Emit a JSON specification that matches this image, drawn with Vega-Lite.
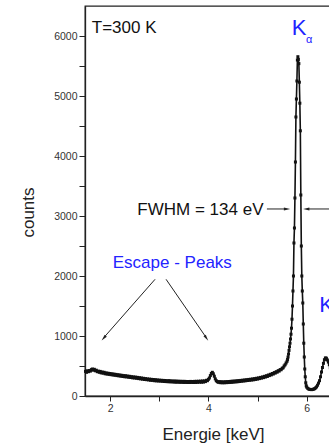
{
  "$schema": "https://vega.github.io/schema/vega-lite/v6.json",
  "autosize": "none",
  "padding": {"left": 85, "top": 6, "right": 0, "bottom": 50},
  "width": 250,
  "height": 390,
  "config": {
    "view": {"stroke": "#222", "strokeWidth": 1.3},
    "font": "Liberation Sans",
    "axis": {"grid": false, "domainColor": "#222", "domainWidth": 1.3, "tickColor": "#222", "tickWidth": 1, "labelFont": "Liberation Sans", "labelFontSize": 10.5, "labelColor": "#333", "titleFont": "Liberation Sans", "titleFontSize": 17, "titleFontWeight": "normal", "titleColor": "#222"}
  },
  "datasets": {
    "spec": [
      {"e":1.50,"c":410},{"e":1.52,"c":395},{"e":1.54,"c":420},{"e":1.56,"c":405},{"e":1.58,"c":425},{"e":1.60,"c":415},{"e":1.62,"c":440},{"e":1.64,"c":450},{"e":1.66,"c":430},{"e":1.68,"c":445},
      {"e":1.70,"c":420},{"e":1.72,"c":430},{"e":1.74,"c":405},{"e":1.76,"c":415},{"e":1.78,"c":395},{"e":1.80,"c":410},{"e":1.82,"c":385},{"e":1.84,"c":400},{"e":1.86,"c":380},{"e":1.88,"c":395},
      {"e":1.90,"c":370},{"e":1.92,"c":385},{"e":1.94,"c":365},{"e":1.96,"c":380},{"e":1.98,"c":360},{"e":2.00,"c":375},{"e":2.02,"c":355},{"e":2.04,"c":370},{"e":2.06,"c":350},{"e":2.08,"c":365},
      {"e":2.10,"c":345},{"e":2.12,"c":360},{"e":2.14,"c":340},{"e":2.16,"c":355},{"e":2.18,"c":335},{"e":2.20,"c":350},{"e":2.22,"c":330},{"e":2.24,"c":345},{"e":2.26,"c":325},{"e":2.28,"c":340},
      {"e":2.30,"c":320},{"e":2.32,"c":338},{"e":2.34,"c":318},{"e":2.36,"c":332},{"e":2.38,"c":312},{"e":2.40,"c":328},{"e":2.42,"c":308},{"e":2.44,"c":322},{"e":2.46,"c":302},{"e":2.48,"c":318},
      {"e":2.50,"c":300},{"e":2.52,"c":315},{"e":2.54,"c":295},{"e":2.56,"c":310},{"e":2.58,"c":290},{"e":2.60,"c":305},{"e":2.62,"c":285},{"e":2.64,"c":300},{"e":2.66,"c":280},{"e":2.68,"c":295},
      {"e":2.70,"c":275},{"e":2.72,"c":290},{"e":2.74,"c":272},{"e":2.76,"c":285},{"e":2.78,"c":268},{"e":2.80,"c":282},{"e":2.82,"c":262},{"e":2.84,"c":278},{"e":2.86,"c":260},{"e":2.88,"c":275},
      {"e":2.90,"c":255},{"e":2.92,"c":272},{"e":2.94,"c":252},{"e":2.96,"c":268},{"e":2.98,"c":250},{"e":3.00,"c":265},{"e":3.02,"c":248},{"e":3.04,"c":262},{"e":3.06,"c":245},{"e":3.08,"c":260},
      {"e":3.10,"c":242},{"e":3.12,"c":258},{"e":3.14,"c":240},{"e":3.16,"c":255},{"e":3.18,"c":238},{"e":3.20,"c":256},{"e":3.22,"c":236},{"e":3.24,"c":252},{"e":3.26,"c":235},{"e":3.28,"c":250},
      {"e":3.30,"c":232},{"e":3.32,"c":250},{"e":3.34,"c":230},{"e":3.36,"c":248},{"e":3.38,"c":230},{"e":3.40,"c":246},{"e":3.42,"c":228},{"e":3.44,"c":245},{"e":3.46,"c":228},{"e":3.48,"c":244},
      {"e":3.50,"c":226},{"e":3.52,"c":244},{"e":3.54,"c":226},{"e":3.56,"c":242},{"e":3.58,"c":225},{"e":3.60,"c":242},{"e":3.62,"c":225},{"e":3.64,"c":243},{"e":3.66,"c":226},{"e":3.68,"c":242},
      {"e":3.70,"c":225},{"e":3.72,"c":244},{"e":3.74,"c":226},{"e":3.76,"c":245},{"e":3.78,"c":228},{"e":3.80,"c":246},{"e":3.82,"c":230},{"e":3.84,"c":248},{"e":3.86,"c":230},{"e":3.88,"c":250},
      {"e":3.90,"c":232},{"e":3.92,"c":252},{"e":3.94,"c":240},{"e":3.96,"c":262},{"e":3.98,"c":255},{"e":4.00,"c":278},{"e":4.02,"c":300},{"e":4.04,"c":340},{"e":4.06,"c":375},{"e":4.08,"c":395},
      {"e":4.10,"c":370},{"e":4.12,"c":330},{"e":4.14,"c":285},{"e":4.16,"c":255},{"e":4.18,"c":240},{"e":4.20,"c":228},{"e":4.22,"c":240},{"e":4.24,"c":222},{"e":4.26,"c":238},{"e":4.28,"c":220},
      {"e":4.30,"c":236},{"e":4.32,"c":220},{"e":4.34,"c":238},{"e":4.36,"c":222},{"e":4.38,"c":240},{"e":4.40,"c":224},{"e":4.42,"c":242},{"e":4.44,"c":226},{"e":4.46,"c":245},{"e":4.48,"c":228},
      {"e":4.50,"c":248},{"e":4.52,"c":232},{"e":4.54,"c":250},{"e":4.56,"c":235},{"e":4.58,"c":254},{"e":4.60,"c":238},{"e":4.62,"c":257},{"e":4.64,"c":242},{"e":4.66,"c":260},{"e":4.68,"c":246},
      {"e":4.70,"c":264},{"e":4.72,"c":250},{"e":4.74,"c":268},{"e":4.76,"c":254},{"e":4.78,"c":272},{"e":4.80,"c":258},{"e":4.82,"c":276},{"e":4.84,"c":262},{"e":4.86,"c":280},{"e":4.88,"c":266},
      {"e":4.90,"c":285},{"e":4.92,"c":270},{"e":4.94,"c":290},{"e":4.96,"c":276},{"e":4.98,"c":296},{"e":5.00,"c":282},{"e":5.02,"c":302},{"e":5.04,"c":290},{"e":5.06,"c":310},{"e":5.08,"c":298},
      {"e":5.10,"c":318},{"e":5.12,"c":306},{"e":5.14,"c":328},{"e":5.16,"c":316},{"e":5.18,"c":338},{"e":5.20,"c":326},{"e":5.22,"c":350},{"e":5.24,"c":340},{"e":5.26,"c":362},{"e":5.28,"c":352},
      {"e":5.30,"c":375},{"e":5.32,"c":366},{"e":5.34,"c":390},{"e":5.36,"c":382},{"e":5.38,"c":405},{"e":5.40,"c":398},{"e":5.42,"c":422},{"e":5.44,"c":416},{"e":5.46,"c":440},{"e":5.48,"c":438},
      {"e":5.50,"c":462},{"e":5.52,"c":470},{"e":5.54,"c":500},{"e":5.56,"c":520},{"e":5.58,"c":550},
      {"e":5.60,"c":580},{"e":5.61,"c":610},{"e":5.62,"c":650},{"e":5.63,"c":700},{"e":5.64,"c":760},{"e":5.65,"c":820},{"e":5.66,"c":880},{"e":5.67,"c":950},{"e":5.68,"c":1030},{"e":5.69,"c":1130},
      {"e":5.70,"c":1280},{"e":5.71,"c":1500},{"e":5.72,"c":1750},{"e":5.73,"c":2000},{"e":5.74,"c":2550},{"e":5.75,"c":2800},{"e":5.76,"c":3300},{"e":5.77,"c":3900},{"e":5.78,"c":4650},{"e":5.79,"c":4950},
      {"e":5.80,"c":5250},{"e":5.81,"c":5600},{"e":5.82,"c":5655},{"e":5.83,"c":5610},{"e":5.84,"c":5540},{"e":5.85,"c":5230},{"e":5.86,"c":4880},{"e":5.87,"c":4420},{"e":5.88,"c":3350},{"e":5.89,"c":2500},
      {"e":5.90,"c":2000},{"e":5.91,"c":1750},{"e":5.92,"c":1550},{"e":5.93,"c":1200},{"e":5.94,"c":880},{"e":5.95,"c":650},{"e":5.96,"c":450},{"e":5.97,"c":320},{"e":5.98,"c":220},{"e":5.99,"c":170},
      {"e":6.00,"c":148},{"e":6.02,"c":128},{"e":6.04,"c":116},{"e":6.06,"c":110},{"e":6.08,"c":108},{"e":6.10,"c":106},{"e":6.12,"c":110},{"e":6.14,"c":114},{"e":6.16,"c":122},{"e":6.18,"c":135},
      {"e":6.20,"c":152},{"e":6.22,"c":180},{"e":6.24,"c":215},{"e":6.26,"c":255},{"e":6.28,"c":320},{"e":6.30,"c":400},{"e":6.32,"c":475},{"e":6.34,"c":545},{"e":6.36,"c":605},{"e":6.38,"c":635},
      {"e":6.40,"c":630},{"e":6.42,"c":600},{"e":6.44,"c":565},{"e":6.46,"c":520},{"e":6.48,"c":470},{"e":6.50,"c":420},{"e":6.52,"c":380},{"e":6.55,"c":320}
    ],
    "arrows": [
      {"e":5.19,"c":3117,"e2":5.58,"c2":3117},
      {"e":6.60,"c":3117,"e2":6.01,"c2":3117},
      {"e":2.915,"c":1945,"e2":1.88,"c2":980},
      {"e":3.139,"c":1945,"e2":3.95,"c2":980}
    ]
  },
  "encoding": {
    "x": {"field": "e", "type": "quantitative", "scale": {"domain": [1.49, 6.575], "nice": false, "zero": false},
      "axis": {"title": "Energie [keV]", "values": [2, 3, 4, 5, 6], "labelExpr": "datum.value % 2 === 0 ? datum.label : ''", "tickSize": 5, "labelPadding": 2, "titleX": 128, "titleY": 43, "titleBaseline": "alphabetic", "titleAnchor": null,
        "encode": {"ticks": {"update": {"y2": {"signal": "datum.value % 2 === 0 ? 5 : 3"}}}}}},
    "y": {"field": "c", "type": "quantitative", "scale": {"domain": [0, 6500], "nice": false},
      "axis": {"title": "counts", "values": [0, 500, 1000, 1500, 2000, 2500, 3000, 3500, 4000, 4500, 5000, 5500, 6000], "format": "d", "labelExpr": "datum.value % 1000 === 0 ? datum.label : ''", "tickSize": 6, "labelPadding": 2, "titleAngle": -90, "titleX": -52, "titleY": 206, "titleAlign": "center", "titleBaseline": "alphabetic",
        "encode": {"ticks": {"update": {"x2": {"signal": "datum.value % 1000 === 0 ? -6 : -3"}}}}}}
  },
  "layer": [
    {"data": {"name": "spec"}, "mark": {"type": "line", "color": "#111", "strokeWidth": 1.6}},
    {"data": {"name": "spec"}, "mark": {"type": "point", "shape": "square", "filled": true, "color": "#111", "size": 9, "opacity": 1}},
    {"data": {"name": "arrows"}, "mark": {"type": "rule", "color": "#222", "strokeWidth": 1},
      "encoding": {"x2": {"field": "e2"}, "y2": {"field": "c2"}}},
    {"data": {"values": [{"e": 5.60, "c": 3117}]}, "mark": {"type": "point", "shape": "M0,-1L0.45,1L-0.45,1Z", "filled": true, "color": "#222", "size": 40, "angle": 90, "opacity": 1}},
    {"data": {"values": [{"e": 5.99, "c": 3117}]}, "mark": {"type": "point", "shape": "M0,-1L0.45,1L-0.45,1Z", "filled": true, "color": "#222", "size": 40, "angle": 270, "opacity": 1}},
    {"data": {"values": [{"e": 1.87, "c": 965}]}, "mark": {"type": "point", "shape": "M0,-1L0.45,1L-0.45,1Z", "filled": true, "color": "#222", "size": 40, "angle": 221, "opacity": 1}},
    {"data": {"values": [{"e": 3.96, "c": 965}]}, "mark": {"type": "point", "shape": "M0,-1L0.45,1L-0.45,1Z", "filled": true, "color": "#222", "size": 40, "angle": 145, "opacity": 1}},
    {"data": {"values": [{"e": 1.628, "c": 6045, "t": "T=300 K"}, {"e": 2.555, "c": 3017, "t": "FWHM = 134 eV"}]},
      "mark": {"type": "text", "align": "left", "baseline": "alphabetic", "fontSize": 17, "color": "#111", "font": "Liberation Sans"},
      "encoding": {"text": {"field": "t"}}},
    {"data": {"values": [{"e": 2.055, "c": 2128, "t": "Escape - Peaks"}]},
      "mark": {"type": "text", "align": "left", "baseline": "alphabetic", "fontSize": 17, "color": "#2323ff", "font": "Liberation Sans"},
      "encoding": {"text": {"field": "t"}}},
    {"data": {"values": [{"e": 5.695, "c": 6017, "t": "K"}, {"e": 6.257, "c": 1400, "t": "K"}]},
      "mark": {"type": "text", "align": "left", "baseline": "alphabetic", "fontSize": 22, "color": "#2323ff", "font": "Liberation Sans"},
      "encoding": {"text": {"field": "t"}}},
    {"data": {"values": [{"e": 5.986, "c": 5878, "t": "α"}]},
      "mark": {"type": "text", "align": "left", "baseline": "alphabetic", "fontSize": 11, "color": "#2323ff", "font": "Liberation Sans"},
      "encoding": {"text": {"field": "t"}}}
  ]
}
